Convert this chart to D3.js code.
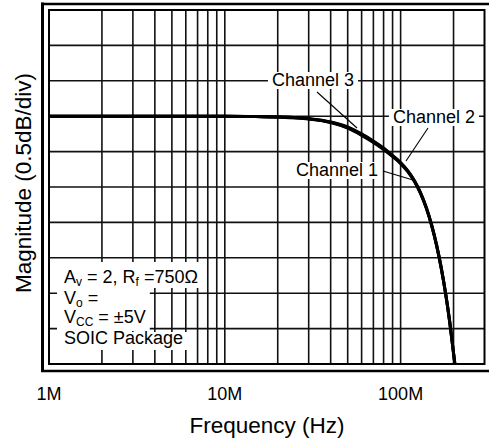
<!DOCTYPE html>
<html>
<head>
<meta charset="utf-8">
<script src="https://cdn.jsdelivr.net/npm/d3@7"></script>
<style>
  html, body { margin: 0; padding: 0; background: #fff; }
  svg { display: block; font-family: "Liberation Sans", Arial, sans-serif; }
</style>
</head>
<body>
<svg id="chart" width="489" height="444"></svg>
<script>
// ---------------- data ----------------
const freqMHz = [1, 2, 5, 10, 15, 20, 30, 40, 50, 60, 70, 80, 90, 100, 110, 120, 130, 140, 150, 160, 170, 180, 190, 200, 204];
const channel1 = [0, 0, 0, 0, -0.005, -0.012, -0.04, -0.09, -0.17, -0.27, -0.37, -0.47, -0.57, -0.67, -0.787, -0.927, -1.098, -1.302, -1.544, -1.825, -2.144, -2.502, -2.903, -3.354, -3.52];
const channel2 = [0, 0, 0, 0, -0.005, -0.011, -0.037, -0.085, -0.16, -0.26, -0.36, -0.46, -0.56, -0.66, -0.777, -0.917, -1.088, -1.292, -1.534, -1.815, -2.134, -2.492, -2.893, -3.344, -3.52];
const channel3 = [0, 0, 0, 0, -0.004, -0.010, -0.034, -0.08, -0.15, -0.25, -0.35, -0.45, -0.555, -0.655, -0.772, -0.912, -1.083, -1.29, -1.532, -1.813, -2.132, -2.49, -2.891, -3.342, -3.52];
const xTickValues = [1e6, 1e7, 1e8];
const xTickLabels = ["1M", "10M", "100M"];
const yGridValues = [-3.5, -3, -2.5, -2, -1.5, -1, -0.5, 0, 0.5, 1, 1.5];
const xMinorGrid = [2e6,3e6,4e6,5e6,6e6,7e6,8e6,9e6,2e7,3e7,4e7,5e7,6e7,7e7,8e7,9e7,2e8];
const seriesNames = ["Channel 1", "Channel 2", "Channel 3"];
const conditionLines = [
  [["A",""],["v","sub"],[" = 2, R",""],["f","sub"],[" =750Ω",""]],
  [["V",""],["o","sub"],[" =",""]],
  [["V",""],["CC","sub"],[" = ±5V",""]],
  [["SOIC Package",""]]
];

// ---------------- layout ----------------
const L = 49, R = 484.5, T = 10, B = 364;
const svg = d3.select("#chart");
const x = d3.scaleLog().domain([1e6, 3e8]).range([L, R]);
const y = d3.scaleLinear().domain([-3.5, 1.5]).range([B, T]);

// outer frame
svg.append("line").attr("x1", 42.5).attr("x2", 42.5).attr("y1", 2.5).attr("y2", 372).attr("stroke", "#000").attr("stroke-width", 3);
svg.append("line").attr("x1", 41).attr("x2", 489).attr("y1", 4).attr("y2", 4).attr("stroke", "#000").attr("stroke-width", 2.5);
svg.append("line").attr("x1", 41).attr("x2", 489).attr("y1", 371).attr("y2", 371).attr("stroke", "#000").attr("stroke-width", 2.5);

// grid
const grid = svg.append("g").attr("stroke", "#111").attr("stroke-width", 1.6);
xMinorGrid.concat(xTickValues).forEach(f => {
  grid.append("line").attr("x1", x(f)).attr("x2", x(f)).attr("y1", T).attr("y2", B);
});
yGridValues.forEach(v => {
  grid.append("line").attr("x1", L).attr("x2", R).attr("y1", y(v)).attr("y2", y(v));
});

// clip
svg.append("clipPath").attr("id", "clip").append("rect").attr("x", L).attr("y", T).attr("width", R - L).attr("height", B - T);

// curves
const line = d3.line().x(d => x(d[0] * 1e6)).y(d => y(d[1])).curve(d3.curveMonotoneX);
[channel1, channel2, channel3].forEach(ch => {
  svg.append("path").attr("clip-path", "url(#clip)")
    .attr("d", line(freqMHz.map((f, i) => [f, ch[i]])))
    .attr("fill", "none").attr("stroke", "#000").attr("stroke-width", 3);
});

// plot border
svg.append("rect").attr("x", L).attr("y", T).attr("width", R - L).attr("height", B - T)
  .attr("fill", "none").attr("stroke", "#000").attr("stroke-width", 2);

// condition text block
const condBaselines = [283, 304, 323, 344];
const condPadTop = [21, 17, 17, 12];
const condPadBot = [5, 2, 8, 6];
const condG = svg.append("g");
const condBg = condG.append("g");
const condTxt = condG.append("g");
const boxes = [];
conditionLines.forEach((parts, i) => {
  const t = condTxt.append("text").attr("x", 64).attr("y", condBaselines[i]).attr("font-size", 18).attr("fill", "#000");
  let shift = 0;
  parts.forEach(p => {
    const isSub = p[1] === "sub";
    const want = isSub ? 3 : 0;
    const ts = t.append("tspan").text(p[0]).attr("dy", want - shift);
    if (isSub) ts.attr("font-size", 12);
    shift = want;
  });
  boxes.push(t.node().getBBox());
});
const w23 = Math.max(boxes[1].width, boxes[2].width);
boxes.forEach((b, i) => {
  const w = (i === 1 || i === 2) ? w23 : b.width;
  condBg.append("rect").attr("x", 57).attr("y", condBaselines[i] - condPadTop[i])
    .attr("width", (64 - 57) + w + 4).attr("height", condPadTop[i] + condPadBot[i]).attr("fill", "#fff");
});

// channel annotations
const annos = [
  { name: seriesNames[2], tx: 313, ty: 86, lx1: 317, ly1: 92, lx2: 357, ly2: 128 },
  { name: seriesNames[1], tx: 434, ty: 123, lx1: 428, ly1: 128, lx2: 406, ly2: 161 },
  { name: seriesNames[0], tx: 337, ty: 176, lx1: 383, ly1: 171, lx2: 413, ly2: 180 }
];
const annG = svg.append("g");
annos.forEach(a => {
  annG.append("line").attr("x1", a.lx1).attr("y1", a.ly1).attr("x2", a.lx2).attr("y2", a.ly2)
    .attr("stroke", "#000").attr("stroke-width", 1.1);
  const g = annG.append("g");
  const t = g.append("text").attr("x", a.tx).attr("y", a.ty).attr("text-anchor", "middle")
    .attr("font-size", 18).attr("fill", "#000").text(a.name);
  const b = t.node().getBBox();
  g.insert("rect", "text").attr("x", b.x - 4).attr("y", b.y + 2).attr("width", b.width + 8).attr("height", b.height - 3).attr("fill", "#fff");
});

// x tick labels
xTickValues.forEach((v, i) => {
  svg.append("text").attr("x", x(v)).attr("y", 400).attr("text-anchor", "middle")
    .attr("font-size", 18).attr("fill", "#000").text(xTickLabels[i]);
});

// axis titles
svg.append("text").attr("x", 267).attr("y", 433).attr("text-anchor", "middle")
  .attr("font-size", 22.5).attr("fill", "#000").text("Frequency (Hz)");
svg.append("text").attr("transform", "translate(31,183) rotate(-90)").attr("text-anchor", "middle")
  .attr("font-size", 22.5).attr("fill", "#000").text("Magnitude (0.5dB/div)");
</script>
</body>
</html>
